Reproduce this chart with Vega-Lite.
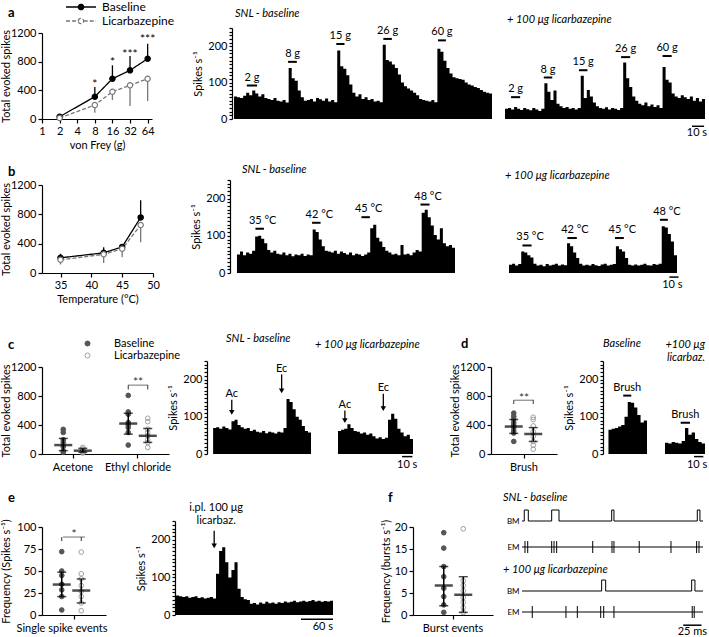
{
"$schema":"https://vega.github.io/schema/vega-lite/v6.json",
"padding":{"left":0,"top":0,"right":2,"bottom":2},
"background":"white",
"config":{
 "font":"Lato",
 "view":{"stroke":null},
 "axis":{"grid":false,"domainColor":"black","tickColor":"black","labelColor":"black","titleColor":"black","labelFontSize":11,"titleFontSize":11,"titleFontWeight":"normal","tickSize":4,"labelPadding":2,"titlePadding":3,"domainWidth":1.2,"tickWidth":1.2,"labelFont":"Lato","titleFont":"Lato","labelFlush":false,"labelOverlap":false},
 "title":{"fontSize":11,"fontWeight":"normal","color":"black","font":"Lato","frame":"group"},
 "legend":{"labelFont":"Lato","labelColor":"black"},
 "text":{"font":"Lato","color":"black"}
},
"datasets":{
 "vf":[
  {"vf":2,"series":"Baseline","mean":32,"bar":60},{"vf":8,"series":"Baseline","mean":311,"bar":446},{"vf":16,"series":"Baseline","mean":562,"bar":749},{"vf":32,"series":"Baseline","mean":679,"bar":879},{"vf":64,"series":"Baseline","mean":841,"bar":1050},
  {"vf":2,"series":"Licarbazepine","mean":14,"bar":0},{"vf":8,"series":"Licarbazepine","mean":195,"bar":88},{"vf":16,"series":"Licarbazepine","mean":381,"bar":265},{"vf":32,"series":"Licarbazepine","mean":470,"bar":181},{"vf":64,"series":"Licarbazepine","mean":562,"bar":250}],
 "vfstars":[{"vf":8,"y":530,"label":"*"},{"vf":16,"y":837,"label":"*"},{"vf":32,"y":950,"label":"***"},{"vf":64,"y":1160,"label":"***"}],
 "temp":[
  {"temp":35,"series":"Baseline","mean":207,"bar":262},{"temp":42,"series":"Baseline","mean":275,"bar":352},{"temp":45,"series":"Baseline","mean":356,"bar":375},{"temp":48,"series":"Baseline","mean":758,"bar":992},
  {"temp":35,"series":"Licarbazepine","mean":180,"bar":117},{"temp":42,"series":"Licarbazepine","mean":255,"bar":135},{"temp":45,"series":"Licarbazepine","mean":330,"bar":216},{"temp":48,"series":"Licarbazepine","mean":654,"bar":420}],
 "hAb":[{"t":0,"v":62},{"t":1,"v":60},{"t":2,"v":58},{"t":3,"v":64},{"t":4,"v":72},{"t":5,"v":65},{"t":6,"v":78},{"t":7,"v":70},{"t":8,"v":62},{"t":9,"v":68},{"t":10,"v":58},{"t":11,"v":55},{"t":12,"v":52},{"t":13,"v":58},{"t":14,"v":50},{"t":15,"v":48},{"t":16,"v":52},{"t":17,"v":45},{"t":18,"v":140},{"t":19,"v":112},{"t":20,"v":105},{"t":21,"v":78},{"t":22,"v":60},{"t":23,"v":50},{"t":24,"v":52},{"t":25,"v":55},{"t":26,"v":48},{"t":27,"v":58},{"t":28,"v":54},{"t":29,"v":50},{"t":30,"v":56},{"t":31,"v":48},{"t":32,"v":52},{"t":33,"v":46},{"t":34,"v":188},{"t":35,"v":145},{"t":36,"v":138},{"t":37,"v":120},{"t":38,"v":95},{"t":39,"v":72},{"t":40,"v":62},{"t":41,"v":68},{"t":42,"v":55},{"t":43,"v":60},{"t":44,"v":52},{"t":45,"v":55},{"t":46,"v":48},{"t":47,"v":50},{"t":48,"v":46},{"t":49,"v":204},{"t":50,"v":162},{"t":51,"v":158},{"t":52,"v":150},{"t":53,"v":140},{"t":54,"v":122},{"t":55,"v":100},{"t":56,"v":90},{"t":57,"v":84},{"t":58,"v":78},{"t":59,"v":72},{"t":60,"v":65},{"t":61,"v":55},{"t":62,"v":52},{"t":63,"v":50},{"t":64,"v":48},{"t":65,"v":52},{"t":66,"v":46},{"t":67,"v":193},{"t":68,"v":185},{"t":69,"v":160},{"t":70,"v":140},{"t":71,"v":125},{"t":72,"v":115},{"t":73,"v":112},{"t":74,"v":110},{"t":75,"v":108},{"t":76,"v":100},{"t":77,"v":95},{"t":78,"v":92},{"t":79,"v":88},{"t":80,"v":85},{"t":81,"v":80},{"t":82,"v":75},{"t":83,"v":72},{"t":84,"v":70},{"t":85,"v":68}],
 "hAl":[{"t":0,"v":28},{"t":1,"v":30},{"t":2,"v":26},{"t":3,"v":33},{"t":4,"v":28},{"t":5,"v":25},{"t":6,"v":30},{"t":7,"v":27},{"t":8,"v":24},{"t":9,"v":30},{"t":10,"v":26},{"t":11,"v":22},{"t":12,"v":28},{"t":13,"v":98},{"t":14,"v":75},{"t":15,"v":52},{"t":16,"v":78},{"t":17,"v":42},{"t":18,"v":35},{"t":19,"v":30},{"t":20,"v":33},{"t":21,"v":28},{"t":22,"v":30},{"t":23,"v":26},{"t":24,"v":30},{"t":25,"v":119},{"t":26,"v":58},{"t":27,"v":80},{"t":28,"v":62},{"t":29,"v":45},{"t":30,"v":35},{"t":31,"v":30},{"t":32,"v":28},{"t":33,"v":32},{"t":34,"v":26},{"t":35,"v":30},{"t":36,"v":28},{"t":37,"v":25},{"t":38,"v":30},{"t":39,"v":155},{"t":40,"v":112},{"t":41,"v":88},{"t":42,"v":62},{"t":43,"v":50},{"t":44,"v":42},{"t":45,"v":38},{"t":46,"v":45},{"t":47,"v":35},{"t":48,"v":40},{"t":49,"v":33},{"t":50,"v":38},{"t":51,"v":30},{"t":52,"v":143},{"t":53,"v":108},{"t":54,"v":100},{"t":55,"v":70},{"t":56,"v":62},{"t":57,"v":58},{"t":58,"v":65},{"t":59,"v":60},{"t":60,"v":55},{"t":61,"v":62},{"t":62,"v":50},{"t":63,"v":58},{"t":64,"v":48},{"t":65,"v":55},{"t":66,"v":45}],
 "hBb":[{"t":0,"v":50},{"t":1,"v":58},{"t":2,"v":48},{"t":3,"v":55},{"t":4,"v":52},{"t":5,"v":60},{"t":6,"v":98},{"t":7,"v":100},{"t":8,"v":92},{"t":9,"v":80},{"t":10,"v":62},{"t":11,"v":55},{"t":12,"v":60},{"t":13,"v":52},{"t":14,"v":50},{"t":15,"v":55},{"t":16,"v":48},{"t":17,"v":52},{"t":18,"v":45},{"t":19,"v":50},{"t":20,"v":48},{"t":21,"v":52},{"t":22,"v":46},{"t":23,"v":50},{"t":24,"v":48},{"t":25,"v":117},{"t":26,"v":110},{"t":27,"v":90},{"t":28,"v":72},{"t":29,"v":60},{"t":30,"v":58},{"t":31,"v":55},{"t":32,"v":60},{"t":33,"v":52},{"t":34,"v":58},{"t":35,"v":54},{"t":36,"v":50},{"t":37,"v":55},{"t":38,"v":48},{"t":39,"v":52},{"t":40,"v":50},{"t":41,"v":46},{"t":42,"v":50},{"t":43,"v":55},{"t":44,"v":120},{"t":45,"v":130},{"t":46,"v":95},{"t":47,"v":85},{"t":48,"v":70},{"t":49,"v":60},{"t":50,"v":55},{"t":51,"v":50},{"t":52,"v":52},{"t":53,"v":48},{"t":54,"v":75},{"t":55,"v":50},{"t":56,"v":52},{"t":57,"v":48},{"t":58,"v":55},{"t":59,"v":62},{"t":60,"v":58},{"t":61,"v":162},{"t":62,"v":170},{"t":63,"v":150},{"t":64,"v":128},{"t":65,"v":102},{"t":66,"v":90},{"t":67,"v":120},{"t":68,"v":80},{"t":69,"v":72},{"t":70,"v":75},{"t":71,"v":68},{"t":72,"v":72}],
 "hBl":[{"t":0,"v":22},{"t":1,"v":25},{"t":2,"v":20},{"t":3,"v":24},{"t":4,"v":58},{"t":5,"v":55},{"t":6,"v":48},{"t":7,"v":42},{"t":8,"v":25},{"t":9,"v":20},{"t":10,"v":22},{"t":11,"v":18},{"t":12,"v":24},{"t":13,"v":20},{"t":14,"v":22},{"t":15,"v":25},{"t":16,"v":20},{"t":17,"v":23},{"t":18,"v":21},{"t":19,"v":80},{"t":20,"v":72},{"t":21,"v":55},{"t":22,"v":40},{"t":23,"v":25},{"t":24,"v":20},{"t":25,"v":22},{"t":26,"v":20},{"t":27,"v":24},{"t":28,"v":21},{"t":29,"v":19},{"t":30,"v":23},{"t":31,"v":25},{"t":32,"v":20},{"t":33,"v":22},{"t":34,"v":24},{"t":35,"v":72},{"t":36,"v":64},{"t":37,"v":58},{"t":38,"v":40},{"t":39,"v":22},{"t":40,"v":20},{"t":41,"v":23},{"t":42,"v":20},{"t":43,"v":22},{"t":44,"v":25},{"t":45,"v":21},{"t":46,"v":20},{"t":47,"v":24},{"t":48,"v":22},{"t":49,"v":25},{"t":50,"v":126},{"t":51,"v":122},{"t":52,"v":105},{"t":53,"v":85},{"t":54,"v":48},{"t":55,"v":42}],
 "hCb":[{"t":0,"v":70},{"t":1,"v":72},{"t":2,"v":68},{"t":3,"v":74},{"t":4,"v":70},{"t":5,"v":66},{"t":6,"v":88},{"t":7,"v":92},{"t":8,"v":78},{"t":9,"v":72},{"t":10,"v":68},{"t":11,"v":70},{"t":12,"v":62},{"t":13,"v":65},{"t":14,"v":60},{"t":15,"v":58},{"t":16,"v":62},{"t":17,"v":56},{"t":18,"v":60},{"t":19,"v":58},{"t":20,"v":55},{"t":21,"v":60},{"t":22,"v":58},{"t":23,"v":70},{"t":24,"v":148},{"t":25,"v":140},{"t":26,"v":120},{"t":27,"v":100},{"t":28,"v":92},{"t":29,"v":75},{"t":30,"v":62},{"t":31,"v":58},{"t":32,"v":56}],
 "hCl":[{"t":0,"v":62},{"t":1,"v":65},{"t":2,"v":68},{"t":3,"v":80},{"t":4,"v":70},{"t":5,"v":62},{"t":6,"v":60},{"t":7,"v":55},{"t":8,"v":58},{"t":9,"v":52},{"t":10,"v":55},{"t":11,"v":48},{"t":12,"v":42},{"t":13,"v":45},{"t":14,"v":40},{"t":15,"v":44},{"t":16,"v":92},{"t":17,"v":108},{"t":18,"v":95},{"t":19,"v":68},{"t":20,"v":58},{"t":21,"v":48},{"t":22,"v":52},{"t":23,"v":40},{"t":24,"v":42}],
 "hDb":[{"t":0,"v":65},{"t":1,"v":68},{"t":2,"v":70},{"t":3,"v":74},{"t":4,"v":78},{"t":5,"v":100},{"t":6,"v":140},{"t":7,"v":138},{"t":8,"v":125},{"t":9,"v":105},{"t":10,"v":85},{"t":11,"v":90},{"t":12,"v":80}],
 "hDl":[{"t":0,"v":30},{"t":1,"v":28},{"t":2,"v":32},{"t":3,"v":30},{"t":4,"v":28},{"t":5,"v":35},{"t":6,"v":70},{"t":7,"v":52},{"t":8,"v":58},{"t":9,"v":40},{"t":10,"v":32},{"t":11,"v":28},{"t":12,"v":30}],
 "hE":[{"t":0,"v":52},{"t":1,"v":50},{"t":2,"v":48},{"t":3,"v":50},{"t":4,"v":46},{"t":5,"v":48},{"t":6,"v":50},{"t":7,"v":45},{"t":8,"v":47},{"t":9,"v":44},{"t":10,"v":46},{"t":11,"v":48},{"t":12,"v":44},{"t":13,"v":110},{"t":14,"v":170},{"t":15,"v":180},{"t":16,"v":140},{"t":17,"v":100},{"t":18,"v":120},{"t":19,"v":140},{"t":20,"v":70},{"t":21,"v":48},{"t":22,"v":42},{"t":23,"v":40},{"t":24,"v":30},{"t":25,"v":32},{"t":26,"v":28},{"t":27,"v":33},{"t":28,"v":30},{"t":29,"v":35},{"t":30,"v":31},{"t":31,"v":33},{"t":32,"v":30},{"t":33,"v":34},{"t":34,"v":32},{"t":35,"v":36},{"t":36,"v":33},{"t":37,"v":35},{"t":38,"v":38},{"t":39,"v":34},{"t":40,"v":36},{"t":41,"v":38},{"t":42,"v":35},{"t":43,"v":37},{"t":44,"v":40},{"t":45,"v":36},{"t":46,"v":38},{"t":47,"v":35},{"t":48,"v":37},{"t":49,"v":36},{"t":50,"v":38},{"t":51,"v":40}],
 "sAb":[{"t0":4.2,"t1":7.6,"tm":5.9,"y":92,"label":"2 g"},{"t0":17.8,"t1":20.7,"tm":19.3,"y":157,"label":"8 g"},{"t0":33.7,"t1":36.4,"tm":35,"y":206,"label":"15 g"},{"t0":49.2,"t1":52,"tm":50.6,"y":220,"label":"26 g"},{"t0":67.2,"t1":69.8,"tm":68.5,"y":216,"label":"60 g"}],
 "sAl":[{"t0":2,"t1":5,"tm":3.5,"y":60,"label":"2 g"},{"t0":12.8,"t1":15.6,"tm":14.2,"y":114,"label":"8 g"},{"t0":24.4,"t1":27.2,"tm":25.8,"y":134,"label":"15 g"},{"t0":38.3,"t1":41.3,"tm":39.8,"y":170,"label":"26 g"},{"t0":52,"t1":55,"tm":53.5,"y":173,"label":"60 g"}],
 "barA":[{"t0":61.7,"t1":65.7,"y":-20,"ty":-38,"label":"10 s"}],
 "sBb":[{"t0":6.1,"t1":8.9,"tm":7.5,"y":119,"label":"35 °C"},{"t0":24.8,"t1":27.6,"tm":26.2,"y":135,"label":"42 °C"},{"t0":41.1,"t1":43.9,"tm":42.5,"y":150,"label":"45 °C"},{"t0":60.6,"t1":63.6,"tm":62.1,"y":184,"label":"48 °C"}],
 "sBl":[{"t0":4.4,"t1":7.4,"tm":5.9,"y":74,"label":"35 °C"},{"t0":19.1,"t1":22.2,"tm":20.6,"y":94,"label":"42 °C"},{"t0":34.7,"t1":37.6,"tm":36.1,"y":94,"label":"45 °C"},{"t0":49.4,"t1":52,"tm":50.7,"y":143,"label":"48 °C"}],
 "barB":[{"t0":52.5,"t1":55.5,"y":-11,"ty":-32,"label":"10 s"}],
 "arrCb":[{"t":6.1,"y1":146,"y2":112,"ly":160,"label":"Ac"},{"t":22.4,"y1":214,"y2":170,"ly":228,"label":"Ec"}],
 "arrCl":[{"t":2.2,"y1":117,"y2":90,"ly":131,"label":"Ac"},{"t":14.5,"y1":162,"y2":122,"ly":177,"label":"Ec"}],
 "barC":[{"t0":20.5,"t1":23.8,"y":-7,"ty":-30,"label":"10 s"}],
 "sDb":[{"t0":4.6,"t1":7.1,"tm":5.85,"y":157,"label":"Brush"}],
 "sDl":[{"t0":4.7,"t1":7.5,"tm":6.1,"y":84,"label":"Brush"}],
 "barD":[{"t0":8.7,"t1":11.5,"y":-7,"ty":-30,"label":"10 s"}],
 "arrE":[{"t":12.4,"y1":224,"y2":184,"ly":272,"label":"i.pl. 100 μg\nlicarbaz."}],
 "barE":[{"t0":40.6,"t1":51,"y":-11,"ty":-33,"label":"60 s"}],
 "dotsC":[
  {"cat":"Acetone","series":"Baseline","v":340},{"cat":"Acetone","series":"Baseline","v":297},{"cat":"Acetone","series":"Baseline","v":196},{"cat":"Acetone","series":"Baseline","v":160},{"cat":"Acetone","series":"Baseline","v":100},{"cat":"Acetone","series":"Baseline","v":46},{"cat":"Acetone","series":"Baseline","v":23},
  {"cat":"Acetone","series":"Licarbazepine","v":91},{"cat":"Acetone","series":"Licarbazepine","v":68},{"cat":"Acetone","series":"Licarbazepine","v":46},{"cat":"Acetone","series":"Licarbazepine","v":23},{"cat":"Acetone","series":"Licarbazepine","v":14},{"cat":"Acetone","series":"Licarbazepine","v":32},
  {"cat":"Ethyl chloride","series":"Baseline","v":808},{"cat":"Ethyl chloride","series":"Baseline","v":580},{"cat":"Ethyl chloride","series":"Baseline","v":548},{"cat":"Ethyl chloride","series":"Baseline","v":434},{"cat":"Ethyl chloride","series":"Baseline","v":397},{"cat":"Ethyl chloride","series":"Baseline","v":365},{"cat":"Ethyl chloride","series":"Baseline","v":297},{"cat":"Ethyl chloride","series":"Baseline","v":123},
  {"cat":"Ethyl chloride","series":"Licarbazepine","v":493},{"cat":"Ethyl chloride","series":"Licarbazepine","v":447},{"cat":"Ethyl chloride","series":"Licarbazepine","v":342},{"cat":"Ethyl chloride","series":"Licarbazepine","v":297},{"cat":"Ethyl chloride","series":"Licarbazepine","v":251},{"cat":"Ethyl chloride","series":"Licarbazepine","v":196},{"cat":"Ethyl chloride","series":"Licarbazepine","v":160},{"cat":"Ethyl chloride","series":"Licarbazepine","v":91}],
 "sumC":[{"cat":"Acetone","series":"Baseline","mean":123,"lo":46,"hi":215},{"cat":"Acetone","series":"Licarbazepine","mean":46,"lo":23,"hi":78},{"cat":"Ethyl chloride","series":"Baseline","mean":420,"lo":274,"hi":562},{"cat":"Ethyl chloride","series":"Licarbazepine","mean":251,"lo":160,"hi":352}],
 "sigC":[{"cat":"Ethyl chloride","y":950,"ty":1030,"label":"**"}],
 "sigCe":[{"cat":"Ethyl chloride","series":"Baseline","y":950,"y2":890},{"cat":"Ethyl chloride","series":"Licarbazepine","y":950,"y2":890}],
 "dotsD":[
  {"cat":"Brush","series":"Baseline","v":564},{"cat":"Brush","series":"Baseline","v":520},{"cat":"Brush","series":"Baseline","v":476},{"cat":"Brush","series":"Baseline","v":431},{"cat":"Brush","series":"Baseline","v":396},{"cat":"Brush","series":"Baseline","v":364},{"cat":"Brush","series":"Baseline","v":320},{"cat":"Brush","series":"Baseline","v":289},{"cat":"Brush","series":"Baseline","v":173},
  {"cat":"Brush","series":"Licarbazepine","v":507},{"cat":"Brush","series":"Licarbazepine","v":476},{"cat":"Brush","series":"Licarbazepine","v":387},{"cat":"Brush","series":"Licarbazepine","v":307},{"cat":"Brush","series":"Licarbazepine","v":244},{"cat":"Brush","series":"Licarbazepine","v":173},{"cat":"Brush","series":"Licarbazepine","v":120},{"cat":"Brush","series":"Licarbazepine","v":67}],
 "sumD":[{"cat":"Brush","series":"Baseline","mean":378,"lo":284,"hi":476},{"cat":"Brush","series":"Licarbazepine","mean":276,"lo":173,"hi":364}],
 "sigD":[{"cat":"Brush","y":742,"ty":815,"label":"**"}],
 "sigDe":[{"cat":"Brush","series":"Baseline","y":742,"y2":690},{"cat":"Brush","series":"Licarbazepine","y":742,"y2":690}],
 "dotsE":[
  {"cat":"Single spike events","series":"Baseline","v":72},{"cat":"Single spike events","series":"Baseline","v":50},{"cat":"Single spike events","series":"Baseline","v":45},{"cat":"Single spike events","series":"Baseline","v":35},{"cat":"Single spike events","series":"Baseline","v":28.5},{"cat":"Single spike events","series":"Baseline","v":21},{"cat":"Single spike events","series":"Baseline","v":5.7},
  {"cat":"Single spike events","series":"Licarbazepine","v":71.5},{"cat":"Single spike events","series":"Licarbazepine","v":46.8},{"cat":"Single spike events","series":"Licarbazepine","v":41},{"cat":"Single spike events","series":"Licarbazepine","v":33.5},{"cat":"Single spike events","series":"Licarbazepine","v":27},{"cat":"Single spike events","series":"Licarbazepine","v":21},{"cat":"Single spike events","series":"Licarbazepine","v":13.7},{"cat":"Single spike events","series":"Licarbazepine","v":4.9}],
 "sumE":[{"cat":"Single spike events","series":"Baseline","mean":34.6,"lo":20.9,"hi":48.7},{"cat":"Single spike events","series":"Licarbazepine","mean":27.8,"lo":13.7,"hi":41}],
 "sigE":[{"cat":"Single spike events","y":88.6,"ty":95,"label":"*"}],
 "sigEe":[{"cat":"Single spike events","series":"Baseline","y":88.6,"y2":84},{"cat":"Single spike events","series":"Licarbazepine","y":88.6,"y2":84}],
 "dotsF":[
  {"cat":"Burst events","series":"Baseline","v":18.7},{"cat":"Burst events","series":"Baseline","v":15.2},{"cat":"Burst events","series":"Baseline","v":11},{"cat":"Burst events","series":"Baseline","v":8.7},{"cat":"Burst events","series":"Baseline","v":6.1},{"cat":"Burst events","series":"Baseline","v":4.2},{"cat":"Burst events","series":"Baseline","v":2.3},{"cat":"Burst events","series":"Baseline","v":0.6},
  {"cat":"Burst events","series":"Licarbazepine","v":19.6},{"cat":"Burst events","series":"Licarbazepine","v":7.8},{"cat":"Burst events","series":"Licarbazepine","v":6.7},{"cat":"Burst events","series":"Licarbazepine","v":5.5},{"cat":"Burst events","series":"Licarbazepine","v":4},{"cat":"Burst events","series":"Licarbazepine","v":2.9},{"cat":"Burst events","series":"Licarbazepine","v":1.7},{"cat":"Burst events","series":"Licarbazepine","v":0.6}],
 "sumF":[{"cat":"Burst events","series":"Baseline","mean":6.7,"lo":2.1,"hi":11},{"cat":"Burst events","series":"Licarbazepine","mean":4.6,"lo":0.6,"hi":8.7}],
 "bm1":[{"t":0,"level":0},{"t":3.1,"level":1},{"t":8.6,"level":0},{"t":40.5,"level":1},{"t":50.5,"level":0},{"t":122.4,"level":1},{"t":125.5,"level":0},{"t":239.2,"level":1},{"t":242.8,"level":0},{"t":247,"level":0}],
 "bm2":[{"t":0,"level":0},{"t":108.7,"level":1},{"t":114.2,"level":0},{"t":231.5,"level":1},{"t":236,"level":0},{"t":247,"level":0}],
 "em1":[{"t":4.1},{"t":7.8},{"t":40.5},{"t":43.7},{"t":47.3},{"t":96.5},{"t":122.8},{"t":125.5},{"t":160},{"t":203.3},{"t":238.3},{"t":241.5}],
 "em2":[{"t":14},{"t":60},{"t":75.5},{"t":107.4},{"t":111.5},{"t":125.5},{"t":232.3},{"t":235}],
 "emline":[{"t0":0,"t1":247}],
 "barF":[{"t0":220,"t1":245,"tm":232.5,"label":"25 ms"}]
},
"resolve":{"scale":{"fill":"independent","stroke":"independent","strokeDash":"independent"}},
"spacing":29,
"vconcat":[
 {"spacing":14,"resolve":{"scale":{"fill":"independent","stroke":"independent","strokeDash":"independent"}},"vconcat":[
  {"bounds":"flush","spacing":0,"resolve":{"scale":{"fill":"independent","stroke":"independent","strokeDash":"independent"}},"hconcat":[
   {"width":190,"height":91,
    "title":{"text":"a","anchor":"start","dx":-34,"offset":-20,"fontWeight":"bold","fontSize":13},
    "layer":[
     {"data":{"name":"vf"},"mark":{"type":"rule","strokeWidth":1.3},
      "encoding":{
       "x":{"field":"vf","type":"quantitative","scale":{"type":"log","base":2,"domain":[1,76],"nice":false,"range":[0,110]},"axis":{"values":[1,2,4,8,16,32,64],"title":"von Frey (g)","labelOverlap":false}},
       "y":{"field":"mean","type":"quantitative","scale":{"domain":[0,1200],"range":[91,5],"nice":false},"axis":{"values":[0,400,800,1200],"tickCount":50,"format":"d","labelOverlap":false,"title":"Total evoked spikes","minExtent":30,"maxExtent":30,"titlePadding":1}},
       "y2":{"field":"bar"},
       "stroke":{"field":"series","type":"nominal","scale":{"domain":["Baseline","Licarbazepine"],"range":["black","#777777"]},"legend":{"orient":"none","legendX":32,"legendY":-28,"title":null,"symbolType":"M-2.5,0L-0.45,0M0.45,0L2.5,0M-0.45,0A0.45,0.45,0,1,1,0.45,0A0.45,0.45,0,1,1,-0.45,0","symbolSize":144,"labelFontSize":12,"rowPadding":1,"symbolStrokeWidth":1.3,"labelOffset":14}}}},
     {"data":{"name":"vf"},"mark":{"type":"line","strokeWidth":1.3},
      "encoding":{
       "x":{"field":"vf","type":"quantitative"},
       "y":{"field":"mean","type":"quantitative"},
       "stroke":{"field":"series","type":"nominal","legend":{"orient":"none","legendX":32,"legendY":-28,"title":null,"symbolType":"M-2.5,0L-0.45,0M0.45,0L2.5,0M-0.45,0A0.45,0.45,0,1,1,0.45,0A0.45,0.45,0,1,1,-0.45,0","symbolSize":144,"labelFontSize":12,"rowPadding":1,"symbolStrokeWidth":1.3,"labelOffset":14}},
       "strokeDash":{"field":"series","type":"nominal","scale":{"domain":["Baseline","Licarbazepine"],"range":[[1,0],[4,2]]},"legend":{"orient":"none","legendX":32,"legendY":-28,"title":null,"symbolType":"M-2.5,0L-0.45,0M0.45,0L2.5,0M-0.45,0A0.45,0.45,0,1,1,0.45,0A0.45,0.45,0,1,1,-0.45,0","symbolSize":144,"labelFontSize":12,"rowPadding":1,"symbolStrokeWidth":1.3,"labelOffset":14}}}},
     {"data":{"name":"vf"},"mark":{"type":"point","filled":true,"size":28,"strokeWidth":1.2,"opacity":1},
      "encoding":{
       "x":{"field":"vf","type":"quantitative"},
       "y":{"field":"mean","type":"quantitative"},
       "stroke":{"field":"series","type":"nominal","legend":{"orient":"none","legendX":32,"legendY":-28,"title":null,"symbolType":"M-2.5,0L-0.45,0M0.45,0L2.5,0M-0.45,0A0.45,0.45,0,1,1,0.45,0A0.45,0.45,0,1,1,-0.45,0","symbolSize":144,"labelFontSize":12,"rowPadding":1,"symbolStrokeWidth":1.3,"labelOffset":14}},
       "fill":{"field":"series","type":"nominal","scale":{"domain":["Baseline","Licarbazepine"],"range":["black","white"]},"legend":{"orient":"none","legendX":32,"legendY":-28,"title":null,"symbolType":"M-2.5,0L-0.45,0M0.45,0L2.5,0M-0.45,0A0.45,0.45,0,1,1,0.45,0A0.45,0.45,0,1,1,-0.45,0","symbolSize":144,"labelFontSize":12,"rowPadding":1,"symbolStrokeWidth":1.3,"labelOffset":14}}}},
     {"data":{"name":"vfstars"},"mark":{"type":"text","fontSize":12,"baseline":"middle","dy":3},
      "encoding":{"x":{"field":"vf","type":"quantitative"},"y":{"field":"y","type":"quantitative"},"text":{"field":"label"}}}
    ]},
   {"width":273,"height":91,
    "title":{"text":"SNL - baseline","anchor":"start","fontStyle":"italic","offset":3,"dx":3},
    "layer":[
     {"data":{"name":"hAb"},"mark":{"type":"area","interpolate":"step-after","color":"black"},
      "encoding":{"x":{"field":"t","type":"quantitative","scale":{"domain":[-0.67,85],"nice":false,"zero":false,"range":[0,260]},"axis":null},
       "y":{"field":"v","type":"quantitative","scale":{"domain":[0,250],"nice":false},"axis":{"values":[0,10,20,30,40,50,60,70,80,90,100,110,120,130,140,150,160,170,180,190,200,210,220,230,240,250],"tickCount":50,"labelExpr":"datum.value % 100 === 0 ? datum.label : ''","labelOverlap":false,"tickSize":3,"title":"Spikes s⁻¹","titlePadding":4}}}},
     {"data":{"name":"sAb"},"mark":{"type":"rule","strokeWidth":2,"color":"black"},
      "encoding":{"x":{"field":"t0","type":"quantitative","axis":null},"x2":{"field":"t1"},"y":{"field":"y","type":"quantitative"}}},
     {"data":{"name":"sAb"},"mark":{"type":"text","baseline":"bottom","dy":-3,"fontSize":11},
      "encoding":{"x":{"field":"tm","type":"quantitative","axis":null},"y":{"field":"y","type":"quantitative"},"text":{"field":"label"}}}
    ]},
   {"width":200,"height":91,
    "title":{"text":"+ 100 μg licarbazepine","anchor":"start","fontStyle":"italic","offset":3,"dx":2},
    "layer":[
     {"data":{"name":"hAl"},"mark":{"type":"area","interpolate":"step-after","color":"black"},
      "encoding":{"x":{"field":"t","type":"quantitative","scale":{"domain":[0,66],"nice":false,"zero":false},"axis":null},
       "y":{"field":"v","type":"quantitative","scale":{"domain":[0,250],"nice":false},"axis":null}}},
     {"data":{"name":"sAl"},"mark":{"type":"rule","strokeWidth":2,"color":"black"},
      "encoding":{"x":{"field":"t0","type":"quantitative","axis":null},"x2":{"field":"t1"},"y":{"field":"y","type":"quantitative","axis":null}}},
     {"data":{"name":"sAl"},"mark":{"type":"text","baseline":"bottom","dy":-3,"fontSize":11},
      "encoding":{"x":{"field":"tm","type":"quantitative","axis":null},"y":{"field":"y","type":"quantitative","axis":null},"text":{"field":"label"}}},
     {"data":{"name":"barA"},"mark":{"type":"rule","strokeWidth":1.5,"color":"black"},
      "encoding":{"x":{"field":"t0","type":"quantitative","axis":null},"x2":{"field":"t1"},"y":{"field":"y","type":"quantitative","axis":null}}},
     {"data":{"name":"barA"},"mark":{"type":"text","align":"right","baseline":"middle","fontSize":11,"dx":3},
      "encoding":{"x":{"field":"t1","type":"quantitative","axis":null},"y":{"field":"ty","type":"quantitative","axis":null},"text":{"field":"label"}}}
    ]}
  ]},
  {"bounds":"flush","spacing":0,"resolve":{"scale":{"fill":"independent","stroke":"independent","strokeDash":"independent"}},"hconcat":[
   {"width":188,"height":93,
    "title":{"text":"b","anchor":"start","dx":-34,"offset":0,"fontWeight":"bold","fontSize":13},
    "layer":[
     {"data":{"name":"temp"},"mark":{"type":"rule","strokeWidth":1.3},
      "encoding":{
       "x":{"field":"temp","type":"quantitative","scale":{"domain":[32,50],"nice":false,"zero":false,"range":[0,111]},"axis":{"values":[35,40,45,50],"format":"d","title":"Temperature (°C)","labelOverlap":false}},
       "y":{"field":"mean","type":"quantitative","scale":{"domain":[0,1200],"range":[93,5],"nice":false},"axis":{"values":[0,400,800,1200],"tickCount":50,"format":"d","labelOverlap":false,"title":"Total evoked spikes","minExtent":30,"maxExtent":30,"titlePadding":1}},
       "y2":{"field":"bar"},
       "stroke":{"field":"series","type":"nominal","scale":{"domain":["Baseline","Licarbazepine"],"range":["black","#777777"]},"legend":null}}},
     {"data":{"name":"temp"},"mark":{"type":"line","strokeWidth":1.3},
      "encoding":{
       "x":{"field":"temp","type":"quantitative"},
       "y":{"field":"mean","type":"quantitative"},
       "stroke":{"field":"series","type":"nominal","legend":null},
       "strokeDash":{"field":"series","type":"nominal","scale":{"domain":["Baseline","Licarbazepine"],"range":[[1,0],[4,2]]},"legend":null}}},
     {"data":{"name":"temp"},"mark":{"type":"point","filled":true,"size":28,"strokeWidth":1.2,"opacity":1},
      "encoding":{
       "x":{"field":"temp","type":"quantitative"},
       "y":{"field":"mean","type":"quantitative"},
       "stroke":{"field":"series","type":"nominal","legend":null},
       "fill":{"field":"series","type":"nominal","scale":{"domain":["Baseline","Licarbazepine"],"range":["black","white"]},"legend":null}}}
    ]},
   {"width":279,"height":93,
    "title":{"text":"SNL - baseline","anchor":"start","fontStyle":"italic","offset":-1,"dx":12},
    "layer":[
     {"data":{"name":"hBb"},"mark":{"type":"area","interpolate":"step-after","color":"black"},
      "encoding":{"x":{"field":"t","type":"quantitative","scale":{"domain":[-2.3,72],"nice":false,"zero":false,"range":[0,225]},"axis":null},
       "y":{"field":"v","type":"quantitative","scale":{"domain":[0,250],"nice":false},"axis":{"values":[0,10,20,30,40,50,60,70,80,90,100,110,120,130,140,150,160,170,180,190,200,210,220,230,240,250],"tickCount":50,"labelExpr":"datum.value % 100 === 0 ? datum.label : ''","labelOverlap":false,"tickSize":3,"title":"Spikes s⁻¹","titlePadding":4}}}},
     {"data":{"name":"sBb"},"mark":{"type":"rule","strokeWidth":2,"color":"black"},
      "encoding":{"x":{"field":"t0","type":"quantitative","axis":null},"x2":{"field":"t1"},"y":{"field":"y","type":"quantitative"}}},
     {"data":{"name":"sBb"},"mark":{"type":"text","baseline":"bottom","dy":-3,"dx":3,"fontSize":11},
      "encoding":{"x":{"field":"tm","type":"quantitative","axis":null},"y":{"field":"y","type":"quantitative"},"text":{"field":"label"}}}
    ]},
   {"width":168,"height":93,
    "title":{"text":"+ 100 μg licarbazepine","anchor":"start","fontStyle":"italic","offset":-1,"dx":-4},
    "layer":[
     {"data":{"name":"hBl"},"mark":{"type":"area","interpolate":"step-after","color":"black"},
      "encoding":{"x":{"field":"t","type":"quantitative","scale":{"domain":[0,55],"nice":false,"zero":false},"axis":null},
       "y":{"field":"v","type":"quantitative","scale":{"domain":[0,250],"nice":false},"axis":null}}},
     {"data":{"name":"sBl"},"mark":{"type":"rule","strokeWidth":2,"color":"black"},
      "encoding":{"x":{"field":"t0","type":"quantitative","axis":null},"x2":{"field":"t1"},"y":{"field":"y","type":"quantitative","axis":null}}},
     {"data":{"name":"sBl"},"mark":{"type":"text","baseline":"bottom","dy":-3,"dx":3,"fontSize":11},
      "encoding":{"x":{"field":"tm","type":"quantitative","axis":null},"y":{"field":"y","type":"quantitative","axis":null},"text":{"field":"label"}}},
     {"data":{"name":"barB"},"mark":{"type":"rule","strokeWidth":1.5,"color":"black"},
      "encoding":{"x":{"field":"t0","type":"quantitative","axis":null},"x2":{"field":"t1"},"y":{"field":"y","type":"quantitative","axis":null}}},
     {"data":{"name":"barB"},"mark":{"type":"text","align":"right","baseline":"middle","fontSize":11,"dx":4},
      "encoding":{"x":{"field":"t1","type":"quantitative","axis":null},"y":{"field":"ty","type":"quantitative","axis":null},"text":{"field":"label"}}}
    ]}
  ]}
 ]},
 {"spacing":20,"resolve":{"scale":{"fill":"independent","stroke":"independent","strokeDash":"independent"}},"vconcat":[
  {"bounds":"flush","spacing":0,"resolve":{"scale":{"fill":"independent","stroke":"independent","strokeDash":"independent"}},"hconcat":[
   {"width":165,"height":93,
    "title":{"text":"c","anchor":"start","dx":-34,"offset":-14,"fontWeight":"bold","fontSize":13},
    "layer":[
     {"data":{"name":"dotsC"},"mark":{"type":"point","filled":true,"size":22,"strokeWidth":1,"opacity":1},
      "encoding":{
       "x":{"field":"cat","type":"nominal","scale":{"domain":["Acetone","Ethyl chloride"],"paddingInner":0.4,"paddingOuter":0.177,"range":[0,127]},"axis":{"title":null,"labelAngle":0,"labelPadding":3,"labelOverlap":false}},
       "xOffset":{"field":"series","type":"nominal","scale":{"domain":["Baseline","Licarbazepine"],"paddingInner":0}},
       "y":{"field":"v","type":"quantitative","scale":{"domain":[0,1200],"range":[93,6],"nice":false},"axis":{"values":[0,400,800,1200],"tickCount":50,"format":"d","labelOverlap":false,"title":"Total evoked spikes","minExtent":30,"maxExtent":30,"titlePadding":1}},
       "fill":{"field":"series","type":"nominal","scale":{"domain":["Baseline","Licarbazepine"],"range":["#555555","transparent"]},"legend":{"orient":"none","legendX":40,"legendY":-23,"title":null,"symbolSize":25,"labelFontSize":11,"rowPadding":0,"labelOffset":21,"symbolStrokeWidth":1}},
       "stroke":{"field":"series","type":"nominal","scale":{"domain":["Baseline","Licarbazepine"],"range":["#555555","#a0a0a0"]},"legend":{"orient":"none","legendX":40,"legendY":-23,"title":null,"symbolSize":25,"labelFontSize":11,"rowPadding":0,"labelOffset":21,"symbolStrokeWidth":1}}}},
     {"data":{"name":"sumC"},"mark":{"type":"rule","strokeWidth":1.5,"color":"black"},
      "encoding":{"x":{"field":"cat","type":"nominal"},"xOffset":{"field":"series","type":"nominal"},"y":{"field":"lo","type":"quantitative"},"y2":{"field":"hi"}}},
     {"data":{"name":"sumC"},"mark":{"type":"tick","size":9,"thickness":1.5,"color":"black"},
      "encoding":{"x":{"field":"cat","type":"nominal"},"xOffset":{"field":"series","type":"nominal"},"y":{"field":"lo","type":"quantitative"}}},
     {"data":{"name":"sumC"},"mark":{"type":"tick","size":9,"thickness":1.5,"color":"black"},
      "encoding":{"x":{"field":"cat","type":"nominal"},"xOffset":{"field":"series","type":"nominal"},"y":{"field":"hi","type":"quantitative"}}},
     {"data":{"name":"sumC"},"mark":{"type":"tick","size":18,"thickness":2.5,"color":"black"},
      "encoding":{"x":{"field":"cat","type":"nominal"},"xOffset":{"field":"series","type":"nominal"},"y":{"field":"mean","type":"quantitative"}}},
     {"data":{"name":"sigC"},"mark":{"type":"tick","size":20,"thickness":1,"color":"#333333"},
      "encoding":{"x":{"field":"cat","type":"nominal"},"y":{"field":"y","type":"quantitative"}}},
     {"data":{"name":"sigCe"},"mark":{"type":"rule","strokeWidth":1,"color":"#333333"},
      "encoding":{"x":{"field":"cat","type":"nominal"},"xOffset":{"field":"series","type":"nominal"},"y":{"field":"y","type":"quantitative"},"y2":{"field":"y2"}}},
     {"data":{"name":"sigC"},"mark":{"type":"text","fontSize":12,"baseline":"middle","dy":3,"color":"#333333"},
      "encoding":{"x":{"field":"cat","type":"nominal"},"y":{"field":"ty","type":"quantitative"},"text":{"field":"label"}}}
    ]},
   {"width":131,"height":93,
    "title":{"text":"SNL - baseline","anchor":"start","fontStyle":"italic","offset":11,"dx":19},
    "layer":[
     {"data":{"name":"hCb"},"mark":{"type":"area","interpolate":"step-after","color":"black"},
      "encoding":{"x":{"field":"t","type":"quantitative","scale":{"domain":[-2,32],"nice":false,"zero":false,"range":[0,104]},"axis":null},
       "y":{"field":"v","type":"quantitative","scale":{"domain":[0,250],"nice":false},"axis":{"values":[0,10,20,30,40,50,60,70,80,90,100,110,120,130,140,150,160,170,180,190,200,210,220,230,240,250],"tickCount":50,"labelExpr":"datum.value % 100 === 0 ? datum.label : ''","labelOverlap":false,"tickSize":3,"title":"Spikes s⁻¹","titlePadding":4}}}},
     {"data":{"name":"arrCb"},"mark":{"type":"rule","strokeWidth":1.3,"color":"black"},
      "encoding":{"x":{"field":"t","type":"quantitative","axis":null},"y":{"field":"y1","type":"quantitative"},"y2":{"field":"y2"}}},
     {"data":{"name":"arrCb"},"mark":{"type":"point","shape":"triangle-down","filled":true,"color":"black","size":30,"opacity":1},
      "encoding":{"x":{"field":"t","type":"quantitative","axis":null},"y":{"field":"y2","type":"quantitative"}}},
     {"data":{"name":"arrCb"},"mark":{"type":"text","baseline":"middle","fontSize":11},
      "encoding":{"x":{"field":"t","type":"quantitative","axis":null},"y":{"field":"ly","type":"quantitative"},"text":{"field":"label"}}}
    ]},
   {"width":153,"height":93,
    "title":{"text":"+ 100 μg licarbazepine","anchor":"start","fontStyle":"italic","offset":11,"dx":-23},
    "layer":[
     {"data":{"name":"hCl"},"mark":{"type":"area","interpolate":"step-after","color":"black"},
      "encoding":{"x":{"field":"t","type":"quantitative","scale":{"domain":[0,24],"nice":false,"zero":false,"range":[0,75]},"axis":null},
       "y":{"field":"v","type":"quantitative","scale":{"domain":[0,250],"nice":false},"axis":null}}},
     {"data":{"name":"arrCl"},"mark":{"type":"rule","strokeWidth":1.3,"color":"black"},
      "encoding":{"x":{"field":"t","type":"quantitative","axis":null},"y":{"field":"y1","type":"quantitative","axis":null},"y2":{"field":"y2"}}},
     {"data":{"name":"arrCl"},"mark":{"type":"point","shape":"triangle-down","filled":true,"color":"black","size":30,"opacity":1},
      "encoding":{"x":{"field":"t","type":"quantitative","axis":null},"y":{"field":"y2","type":"quantitative","axis":null}}},
     {"data":{"name":"arrCl"},"mark":{"type":"text","baseline":"middle","fontSize":11},
      "encoding":{"x":{"field":"t","type":"quantitative","axis":null},"y":{"field":"ly","type":"quantitative","axis":null},"text":{"field":"label"}}},
     {"data":{"name":"barC"},"mark":{"type":"rule","strokeWidth":1.5,"color":"black"},
      "encoding":{"x":{"field":"t0","type":"quantitative","axis":null},"x2":{"field":"t1"},"y":{"field":"y","type":"quantitative","axis":null}}},
     {"data":{"name":"barC"},"mark":{"type":"text","align":"right","baseline":"middle","fontSize":11,"dx":5},
      "encoding":{"x":{"field":"t1","type":"quantitative","axis":null},"y":{"field":"ty","type":"quantitative","axis":null},"text":{"field":"label"}}}
    ]},
   {"width":112,"height":93,
    "title":{"text":"d","anchor":"start","dx":-30,"offset":10,"fontWeight":"bold","fontSize":13},
    "layer":[
     {"data":{"name":"dotsD"},"mark":{"type":"point","filled":true,"size":22,"strokeWidth":1,"opacity":1},
      "encoding":{
       "x":{"field":"cat","type":"nominal","scale":{"domain":["Brush"],"paddingInner":0,"paddingOuter":0.325,"range":[0,66]},"axis":{"title":null,"labelAngle":0,"labelPadding":3,"labelOverlap":false}},
       "xOffset":{"field":"series","type":"nominal","scale":{"domain":["Baseline","Licarbazepine"],"paddingInner":0}},
       "y":{"field":"v","type":"quantitative","scale":{"domain":[0,1200],"range":[93,6],"nice":false},"axis":{"values":[0,400,800,1200],"tickCount":50,"format":"d","labelOverlap":false,"title":"Total evoked spikes","minExtent":30,"maxExtent":30,"titlePadding":1}},
       "fill":{"field":"series","type":"nominal","scale":{"domain":["Baseline","Licarbazepine"],"range":["#555555","transparent"]},"legend":null},
       "stroke":{"field":"series","type":"nominal","scale":{"domain":["Baseline","Licarbazepine"],"range":["#555555","#a0a0a0"]},"legend":null}}},
     {"data":{"name":"sumD"},"mark":{"type":"rule","strokeWidth":1.5,"color":"black"},
      "encoding":{"x":{"field":"cat","type":"nominal"},"xOffset":{"field":"series","type":"nominal"},"y":{"field":"lo","type":"quantitative"},"y2":{"field":"hi"}}},
     {"data":{"name":"sumD"},"mark":{"type":"tick","size":9,"thickness":1.5,"color":"black"},
      "encoding":{"x":{"field":"cat","type":"nominal"},"xOffset":{"field":"series","type":"nominal"},"y":{"field":"lo","type":"quantitative"}}},
     {"data":{"name":"sumD"},"mark":{"type":"tick","size":9,"thickness":1.5,"color":"black"},
      "encoding":{"x":{"field":"cat","type":"nominal"},"xOffset":{"field":"series","type":"nominal"},"y":{"field":"hi","type":"quantitative"}}},
     {"data":{"name":"sumD"},"mark":{"type":"tick","size":18,"thickness":2.5,"color":"black"},
      "encoding":{"x":{"field":"cat","type":"nominal"},"xOffset":{"field":"series","type":"nominal"},"y":{"field":"mean","type":"quantitative"}}},
     {"data":{"name":"sigD"},"mark":{"type":"tick","size":20,"thickness":1,"color":"#333333"},
      "encoding":{"x":{"field":"cat","type":"nominal"},"y":{"field":"y","type":"quantitative"}}},
     {"data":{"name":"sigDe"},"mark":{"type":"rule","strokeWidth":1,"color":"#333333"},
      "encoding":{"x":{"field":"cat","type":"nominal"},"xOffset":{"field":"series","type":"nominal"},"y":{"field":"y","type":"quantitative"},"y2":{"field":"y2"}}},
     {"data":{"name":"sigD"},"mark":{"type":"text","fontSize":12,"baseline":"middle","dy":3,"color":"#333333"},
      "encoding":{"x":{"field":"cat","type":"nominal"},"y":{"field":"ty","type":"quantitative"},"text":{"field":"label"}}}
    ]},
   {"width":62,"height":93,
    "title":{"text":"Baseline","anchor":"start","fontStyle":"italic","offset":6,"dx":0},
    "layer":[
     {"data":{"name":"hDb"},"mark":{"type":"area","interpolate":"step-after","color":"black"},
      "encoding":{"x":{"field":"t","type":"quantitative","scale":{"domain":[-1.7,12],"nice":false,"zero":false,"range":[0,44]},"axis":null},
       "y":{"field":"v","type":"quantitative","scale":{"domain":[0,250],"nice":false},"axis":{"values":[0,10,20,30,40,50,60,70,80,90,100,110,120,130,140,150,160,170,180,190,200,210,220,230,240,250],"tickCount":50,"labelExpr":"datum.value % 100 === 0 ? datum.label : ''","labelOverlap":false,"tickSize":3,"title":"Spikes s⁻¹","titlePadding":4}}}},
     {"data":{"name":"sDb"},"mark":{"type":"rule","strokeWidth":2,"color":"black"},
      "encoding":{"x":{"field":"t0","type":"quantitative","axis":null},"x2":{"field":"t1"},"y":{"field":"y","type":"quantitative"}}},
     {"data":{"name":"sDb"},"mark":{"type":"text","baseline":"bottom","dy":-3,"fontSize":11},
      "encoding":{"x":{"field":"tm","type":"quantitative","axis":null},"y":{"field":"y","type":"quantitative"},"text":{"field":"label"}}}
    ]},
   {"width":40,"height":93,
    "title":{"text":["+100 μg","licarbaz."],"anchor":"end","fontStyle":"italic","offset":-2,"dx":0},
    "layer":[
     {"data":{"name":"hDl"},"mark":{"type":"area","interpolate":"step-after","color":"black"},
      "encoding":{"x":{"field":"t","type":"quantitative","scale":{"domain":[0,12],"nice":false,"zero":false},"axis":null},
       "y":{"field":"v","type":"quantitative","scale":{"domain":[0,250],"nice":false},"axis":null}}},
     {"data":{"name":"sDl"},"mark":{"type":"rule","strokeWidth":2,"color":"black"},
      "encoding":{"x":{"field":"t0","type":"quantitative","axis":null},"x2":{"field":"t1"},"y":{"field":"y","type":"quantitative","axis":null}}},
     {"data":{"name":"sDl"},"mark":{"type":"text","baseline":"bottom","dy":-3,"fontSize":11},
      "encoding":{"x":{"field":"tm","type":"quantitative","axis":null},"y":{"field":"y","type":"quantitative","axis":null},"text":{"field":"label"}}},
     {"data":{"name":"barD"},"mark":{"type":"rule","strokeWidth":1.5,"color":"black"},
      "encoding":{"x":{"field":"t0","type":"quantitative","axis":null},"x2":{"field":"t1"},"y":{"field":"y","type":"quantitative","axis":null}}},
     {"data":{"name":"barD"},"mark":{"type":"text","align":"right","baseline":"middle","fontSize":11,"dx":4},
      "encoding":{"x":{"field":"t1","type":"quantitative","axis":null},"y":{"field":"ty","type":"quantitative","axis":null},"text":{"field":"label"}}}
    ]}
  ]},
  {"bounds":"flush","spacing":0,"resolve":{"scale":{"fill":"independent","stroke":"independent","strokeDash":"independent"}},"hconcat":[
   {"width":133,"height":105,
    "title":{"text":"e","anchor":"start","dx":-34,"offset":5,"fontWeight":"bold","fontSize":13},
    "layer":[
     {"data":{"name":"dotsE"},"mark":{"type":"point","filled":true,"size":22,"strokeWidth":1,"opacity":1},
      "encoding":{
       "x":{"field":"cat","type":"nominal","scale":{"domain":["Single spike events"],"paddingInner":0,"paddingOuter":0.227,"range":[0,64]},"axis":{"title":null,"labelAngle":0,"labelPadding":3,"labelOffset":-12,"labelOverlap":false}},
       "xOffset":{"field":"series","type":"nominal","scale":{"domain":["Baseline","Licarbazepine"],"paddingInner":0}},
       "y":{"field":"v","type":"quantitative","scale":{"domain":[0,100],"range":[105,17],"nice":false},"axis":{"values":[0,25,50,75,100],"tickCount":50,"format":"d","labelOverlap":false,"title":"Frequency (Spikes s⁻¹)","minExtent":30,"maxExtent":30,"titlePadding":1}},
       "fill":{"field":"series","type":"nominal","scale":{"domain":["Baseline","Licarbazepine"],"range":["#555555","transparent"]},"legend":null},
       "stroke":{"field":"series","type":"nominal","scale":{"domain":["Baseline","Licarbazepine"],"range":["#555555","#a0a0a0"]},"legend":null}}},
     {"data":{"name":"sumE"},"mark":{"type":"rule","strokeWidth":1.5,"color":"black"},
      "encoding":{"x":{"field":"cat","type":"nominal"},"xOffset":{"field":"series","type":"nominal"},"y":{"field":"lo","type":"quantitative"},"y2":{"field":"hi"}}},
     {"data":{"name":"sumE"},"mark":{"type":"tick","size":9,"thickness":1.5,"color":"black"},
      "encoding":{"x":{"field":"cat","type":"nominal"},"xOffset":{"field":"series","type":"nominal"},"y":{"field":"lo","type":"quantitative"}}},
     {"data":{"name":"sumE"},"mark":{"type":"tick","size":9,"thickness":1.5,"color":"black"},
      "encoding":{"x":{"field":"cat","type":"nominal"},"xOffset":{"field":"series","type":"nominal"},"y":{"field":"hi","type":"quantitative"}}},
     {"data":{"name":"sumE"},"mark":{"type":"tick","size":18,"thickness":2.5,"color":"black"},
      "encoding":{"x":{"field":"cat","type":"nominal"},"xOffset":{"field":"series","type":"nominal"},"y":{"field":"mean","type":"quantitative"}}},
     {"data":{"name":"sigE"},"mark":{"type":"tick","size":22,"thickness":1,"color":"#333333"},
      "encoding":{"x":{"field":"cat","type":"nominal"},"y":{"field":"y","type":"quantitative"}}},
     {"data":{"name":"sigEe"},"mark":{"type":"rule","strokeWidth":1,"color":"#333333"},
      "encoding":{"x":{"field":"cat","type":"nominal"},"xOffset":{"field":"series","type":"nominal"},"y":{"field":"y","type":"quantitative"},"y2":{"field":"y2"}}},
     {"data":{"name":"sigE"},"mark":{"type":"text","fontSize":12,"baseline":"middle","dy":3,"color":"#333333"},
      "encoding":{"x":{"field":"cat","type":"nominal"},"y":{"field":"ty","type":"quantitative"},"text":{"field":"label"}}}
    ]},
   {"width":238,"height":105,
    "layer":[
     {"data":{"name":"hE"},"mark":{"type":"area","interpolate":"step-after","color":"black"},
      "encoding":{"x":{"field":"t","type":"quantitative","scale":{"domain":[-0.33,51],"nice":false,"zero":false,"range":[0,158]},"axis":null},
       "y":{"field":"v","type":"quantitative","scale":{"domain":[0,250],"range":[105,11],"nice":false},"axis":{"values":[0,10,20,30,40,50,60,70,80,90,100,110,120,130,140,150,160,170,180,190,200,210,220,230,240,250],"tickCount":50,"labelExpr":"datum.value % 100 === 0 ? datum.label : ''","labelOverlap":false,"tickSize":3,"title":"Spikes s⁻¹","titlePadding":4}}}},
     {"data":{"name":"arrE"},"mark":{"type":"rule","strokeWidth":1.3,"color":"black"},
      "encoding":{"x":{"field":"t","type":"quantitative","axis":null},"y":{"field":"y1","type":"quantitative"},"y2":{"field":"y2"}}},
     {"data":{"name":"arrE"},"mark":{"type":"point","shape":"triangle-down","filled":true,"color":"black","size":30,"opacity":1},
      "encoding":{"x":{"field":"t","type":"quantitative","axis":null},"y":{"field":"y2","type":"quantitative"}}},
     {"data":{"name":"arrE"},"mark":{"type":"text","baseline":"bottom","fontSize":11,"lineBreak":"\n","dx":2},
      "encoding":{"x":{"field":"t","type":"quantitative","axis":null},"y":{"field":"ly","type":"quantitative"},"text":{"field":"label"}}},
     {"data":{"name":"barE"},"mark":{"type":"rule","strokeWidth":1.5,"color":"black"},
      "encoding":{"x":{"field":"t0","type":"quantitative","axis":null},"x2":{"field":"t1"},"y":{"field":"y","type":"quantitative"}}},
     {"data":{"name":"barE"},"mark":{"type":"text","align":"right","baseline":"middle","fontSize":11},
      "encoding":{"x":{"field":"t1","type":"quantitative","axis":null},"y":{"field":"ty","type":"quantitative"},"text":{"field":"label"}}}
    ]},
   {"width":109,"height":105,
    "title":{"text":"f","anchor":"start","dx":-25,"offset":5,"fontWeight":"bold","fontSize":13},
    "layer":[
     {"data":{"name":"dotsF"},"mark":{"type":"point","filled":true,"size":22,"strokeWidth":1,"opacity":1},
      "encoding":{
       "x":{"field":"cat","type":"nominal","scale":{"domain":["Burst events"],"paddingInner":0,"paddingOuter":0.553,"range":[0,80]},"axis":{"title":null,"labelAngle":0,"labelPadding":3,"labelOverlap":false}},
       "xOffset":{"field":"series","type":"nominal","scale":{"domain":["Baseline","Licarbazepine"],"paddingInner":0}},
       "y":{"field":"v","type":"quantitative","scale":{"domain":[0,20],"range":[105,17],"nice":false},"axis":{"values":[0,5,10,15,20],"tickCount":50,"format":"d","labelOverlap":false,"title":"Frequency (bursts s⁻¹)"}},
       "fill":{"field":"series","type":"nominal","scale":{"domain":["Baseline","Licarbazepine"],"range":["#555555","transparent"]},"legend":null},
       "stroke":{"field":"series","type":"nominal","scale":{"domain":["Baseline","Licarbazepine"],"range":["#555555","#a0a0a0"]},"legend":null}}},
     {"data":{"name":"sumF"},"mark":{"type":"rule","strokeWidth":1.5,"color":"black"},
      "encoding":{"x":{"field":"cat","type":"nominal"},"xOffset":{"field":"series","type":"nominal"},"y":{"field":"lo","type":"quantitative"},"y2":{"field":"hi"}}},
     {"data":{"name":"sumF"},"mark":{"type":"tick","size":9,"thickness":1.5,"color":"black"},
      "encoding":{"x":{"field":"cat","type":"nominal"},"xOffset":{"field":"series","type":"nominal"},"y":{"field":"lo","type":"quantitative"}}},
     {"data":{"name":"sumF"},"mark":{"type":"tick","size":9,"thickness":1.5,"color":"black"},
      "encoding":{"x":{"field":"cat","type":"nominal"},"xOffset":{"field":"series","type":"nominal"},"y":{"field":"hi","type":"quantitative"}}},
     {"data":{"name":"sumF"},"mark":{"type":"tick","size":18,"thickness":2.5,"color":"black"},
      "encoding":{"x":{"field":"cat","type":"nominal"},"xOffset":{"field":"series","type":"nominal"},"y":{"field":"mean","type":"quantitative"}}}
    ]},
   {"bounds":"flush","spacing":0,"vconcat":[
    {"width":181,"height":31,
     "title":{"text":"SNL - baseline","anchor":"start","fontStyle":"italic","offset":5,"dx":-19},
     "data":{"name":"bm1"},
     "mark":{"type":"line","interpolate":"step-after","color":"black","strokeWidth":1},
     "encoding":{"x":{"field":"t","type":"quantitative","scale":{"domain":[0,247],"nice":false,"zero":false},"axis":null},
      "y":{"field":"level","type":"quantitative","scale":{"domain":[0,1],"nice":false,"range":[11,0]},"axis":{"title":"BM","titleAngle":0,"titleAlign":"right","titleBaseline":"middle","titleX":-3,"titleY":11,"labels":false,"ticks":false,"domain":false,"titleFontSize":8}}}},
    {"width":181,"height":39,
     "layer":[
      {"data":{"name":"emline"},"mark":{"type":"rule","color":"black","strokeWidth":1},
       "encoding":{"x":{"field":"t0","type":"quantitative","scale":{"domain":[0,247],"nice":false,"zero":false},"axis":null},"x2":{"field":"t1"},
        "y":{"datum":0,"type":"quantitative","scale":{"domain":[-1,1],"nice":false,"range":[12,0]},"axis":{"title":"EM","titleAngle":0,"titleAlign":"right","titleBaseline":"middle","titleX":-3,"titleY":6,"labels":false,"ticks":false,"domain":false,"titleFontSize":8}}}},
      {"data":{"name":"em1"},"mark":{"type":"rule","color":"black","strokeWidth":1},
       "encoding":{"x":{"field":"t","type":"quantitative","axis":null},"y":{"datum":-1,"type":"quantitative"},"y2":{"datum":1}}}
     ]},
    {"width":181,"height":26,
     "title":{"text":"+ 100 μg licarbazepine","anchor":"start","fontStyle":"italic","offset":3,"dx":-19},
     "data":{"name":"bm2"},
     "mark":{"type":"line","interpolate":"step-after","color":"black","strokeWidth":1},
     "encoding":{"x":{"field":"t","type":"quantitative","scale":{"domain":[0,247],"nice":false,"zero":false},"axis":null},
      "y":{"field":"level","type":"quantitative","scale":{"domain":[0,1],"nice":false,"range":[11,0]},"axis":{"title":"BM","titleAngle":0,"titleAlign":"right","titleBaseline":"middle","titleX":-3,"titleY":11,"labels":false,"ticks":false,"domain":false,"titleFontSize":8}}}},
    {"width":181,"height":12,
     "layer":[
      {"data":{"name":"emline"},"mark":{"type":"rule","color":"black","strokeWidth":1},
       "encoding":{"x":{"field":"t0","type":"quantitative","scale":{"domain":[0,247],"nice":false,"zero":false},"axis":null},"x2":{"field":"t1"},
        "y":{"datum":0,"type":"quantitative","scale":{"domain":[-1,1],"nice":false,"range":[12,0]},"axis":{"title":"EM","titleAngle":0,"titleAlign":"right","titleBaseline":"middle","titleX":-3,"titleY":6,"labels":false,"ticks":false,"domain":false,"titleFontSize":8}}}},
      {"data":{"name":"em2"},"mark":{"type":"rule","color":"black","strokeWidth":1},
       "encoding":{"x":{"field":"t","type":"quantitative","axis":null},"y":{"datum":-1,"type":"quantitative"},"y2":{"datum":1}}},
      {"data":{"name":"barF"},"mark":{"type":"rule","color":"black","strokeWidth":1.5},
       "encoding":{"x":{"field":"t0","type":"quantitative","axis":null},"x2":{"field":"t1"},"y":{"datum":-2.2,"type":"quantitative"}}},
      {"data":{"name":"barF"},"mark":{"type":"text","align":"center","baseline":"middle","fontSize":11},
       "encoding":{"x":{"field":"tm","type":"quantitative","axis":null},"y":{"datum":-3.3,"type":"quantitative"},"text":{"field":"label"}}}
     ]}
   ]}
  ]}
 ]}
]
}
